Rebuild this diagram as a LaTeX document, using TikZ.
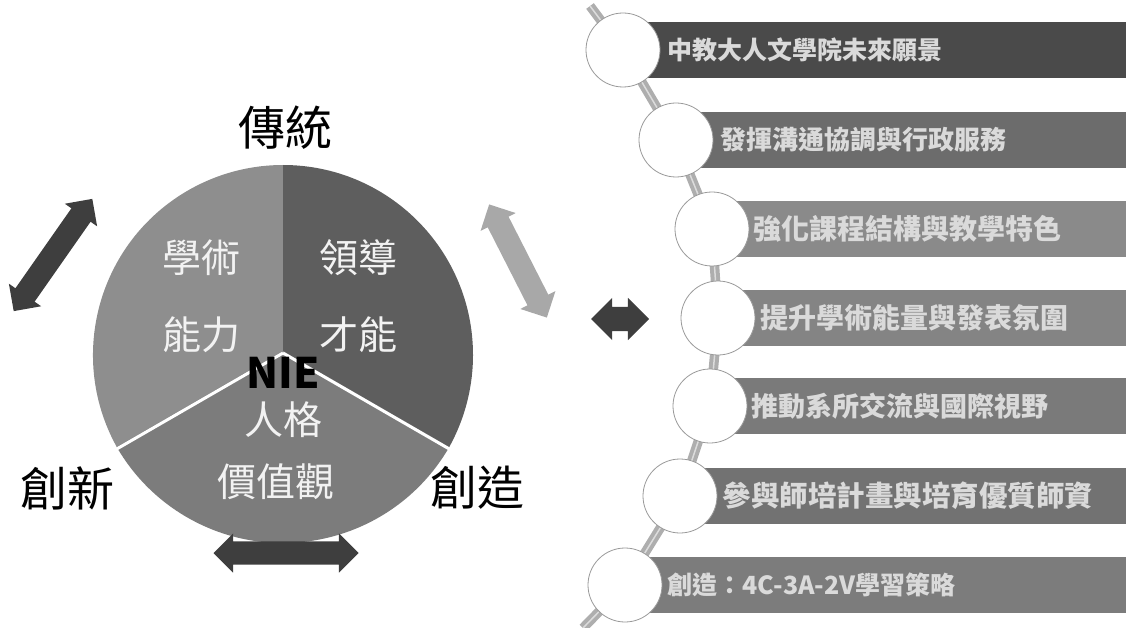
\documentclass[tikz,border=0pt]{standalone}
\usepackage{fontspec}
\newfontfamily\cjk{Noto Sans CJK TC}
\usetikzlibrary{shapes.arrows}
\definecolor{sliceA}{HTML}{8E8E8E}
\definecolor{sliceB}{HTML}{5E5E5E}
\definecolor{sliceC}{HTML}{7C7C7C}
\definecolor{arrowdark}{HTML}{3E3E3E}
\definecolor{arrowlight}{HTML}{A8A8A8}
\definecolor{barA}{HTML}{4A4A4A}
\definecolor{barB}{HTML}{6C6C6C}
\definecolor{barC}{HTML}{8A8A8A}
\definecolor{barD}{HTML}{848484}
\definecolor{barE}{HTML}{7A7A7A}
\definecolor{barF}{HTML}{727272}
\definecolor{barG}{HTML}{7C7C7C}
\definecolor{bartext}{HTML}{DADADA}
\definecolor{ringgray}{HTML}{9A9A9A}
\tikzset{
  slicetxt/.style={font=\cjk\fontsize{39}{41}\selectfont, text=white!90!gray, inner sep=0},
  outertxt/.style={font=\cjk\fontsize{47}{49}\selectfont, text=black, inner sep=0},
  nietxt/.style={font=\cjk\bfseries\fontsize{42}{44}\selectfont, text=black, inner sep=0},
  blockarrow/.style={double arrow, double arrow head extend=8pt, inner xsep=0pt, inner ysep=11.5pt, draw=none},
  barbox/.style={rectangle, minimum height=56pt, anchor=west, inner sep=0, draw=none},
  bartxt/.style={font=\cjk\bfseries\fontsize{#1}{#1}\selectfont, text=bartext, anchor=west, inner sep=0},
  bartxt/.default=25,
  circ/.style={circle, minimum size=74pt, inner sep=0, fill=white, draw=ringgray, line width=0.8pt},
  link/.style={draw=ringgray!80, line width=4pt, double=ringgray!35, double distance=1.5pt}
}
\begin{document}
\begin{tikzpicture}[x=1pt,y=-1pt]
\useasboundingbox (0,0) rectangle (1126,628);
% ---------- pie ----------
\coordinate (pc) at (283,355);
\fill[sliceA] (pc) -- +(150:190) arc[start angle=150, end angle=270, radius=190] -- cycle;
\fill[sliceB] (pc) -- +(270:190) arc[start angle=270, end angle=390, radius=190] -- cycle;
\fill[sliceC] ([yshift=4]pc) -- +(30:192) arc[start angle=30, end angle=150, radius=192] -- cycle;
\draw[white, line width=3pt] ([yshift=2]pc) -- +(150:192);
\draw[white, line width=3pt] ([yshift=2]pc) -- +(30:192);
\node[slicetxt] (s1a) at (201,258) {學術};
\node[slicetxt] (s1b) at (201,335) {能力};
\node[slicetxt] (s2a) at (358,258) {領導};
\node[slicetxt] (s2b) at (358,335) {才能};
\node[slicetxt] (s3a) at (283,420) {人格};
\node[slicetxt] (s3b) at (276,482) {價值觀};
\node[nietxt] (nie) at (283,373) {NIE};
% outer labels
\node[outertxt] (top) at (285,128) {傳統};
\node[outertxt] (left) at (67,488) {創新};
\node[outertxt] (right) at (477,488) {創造};
% block arrows
\node[blockarrow, fill=arrowdark, minimum height=137pt, rotate=55] (arL) at (53,255) {};
\node[blockarrow, fill=arrowlight, minimum height=127pt, rotate=-63] (arR) at (518,261) {};
\node[blockarrow, fill=arrowdark, minimum height=145pt] (arB) at (286,553) {};
\node[blockarrow, fill=arrowdark, minimum height=58pt, inner ysep=12pt, double arrow head extend=9pt] (arM) at (620,319) {};
% ---------- right column ----------
\coordinate (ltop) at (590,6);
\coordinate (lbot) at (583,628);
\coordinate (p1) at (623,50);
\coordinate (p2) at (676,140);
\coordinate (p3) at (712,229);
\coordinate (p4) at (718,318);
\coordinate (p5) at (710,406);
\coordinate (p6) at (680,496);
\coordinate (p7) at (625,585);
\draw[link] (ltop) -- (p1) -- (p2) -- (p3) -- (p4) -- (p5) -- (p6) -- (p7) -- (lbot);
\foreach \i/\c in {1/barA, 2/barB, 3/barC, 4/barD, 5/barE, 6/barF, 7/barG}{
  \path (p\i); \pgfgetlastxy{\px}{\py}
  \node[barbox, fill=\c, minimum width={1126pt-\px}] (b\i) at (p\i) {};
}
\foreach \i in {1,...,7}{
  \node[circ] (c\i) at (p\i) {};
}
\node[bartxt=25] (t1) at ([xshift=7]c1.east) {中教大人文學院未來願景};
\node[bartxt=26] (t2) at ([xshift=7]c2.east) {發揮溝通協調與行政服務};
\node[bartxt=28] (t3) at ([xshift=4]c3.east) {強化課程結構與教學特色};
\node[bartxt=28] (t4) at ([xshift=5]c4.east) {提升學術能量與發表氛圍};
\node[bartxt=27] (t5) at ([xshift=4]c5.east) {推動系所交流與國際視野};
\node[bartxt=28.5] (t6) at ([xshift=5]c6.east) {參與師培計畫與培育優質師資};
\node[bartxt=25] (t7) at ([xshift=5]c7.east) {創造：4C-3A-2V學習策略};
\end{tikzpicture}
\end{document}
